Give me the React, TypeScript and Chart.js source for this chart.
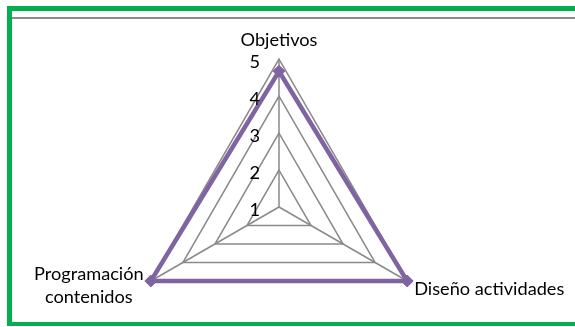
import React, { useEffect, useRef } from "react";
import { Chart, registerables } from "chart.js";

Chart.register(...registerables);

const categories: string[][] = [["Objetivos"], ["Diseño actividades"], ["Programación", "contenidos"]];
const seriesValues: number[] = [4.67, 5, 5];
const tickValues: number[] = [1, 2, 3, 4, 5];

const FONT = "18.2px Lato";
const GRID = "#8a8a8a";
const PURPLE = "#8064A2";

const labelPlugin = {
  id: "customLabels",
  afterDatasetsDraw(chart: any) {
    const scale = chart.scales.r;
    const ctx = chart.ctx;
    ctx.save();
    ctx.fillStyle = "#000";
    ctx.font = FONT;
    // tick labels
    ctx.textAlign = "right";
    ctx.textBaseline = "middle";
    tickValues.forEach((v) => {
      const d = scale.getDistanceFromCenterForValue(v);
      ctx.fillText(String(v), scale.xCenter - 19, scale.yCenter - d + 3);
    });
    // point labels
    const R = scale.drawingArea;
    categories.forEach((lines, i) => {
      const p = scale.getPointPosition(i, R);
      ctx.textBaseline = "alphabetic";
      if (i === 0) {
        ctx.textAlign = "center";
        ctx.fillText(lines[0], p.x, p.y - 13.5);
      } else if (i === 1) {
        ctx.textAlign = "left";
        ctx.fillText(lines[0], p.x + 7, p.y + 14);
      } else {
        ctx.textAlign = "center";
        ctx.fillText(lines[0], p.x - 62, p.y - 1);
        ctx.fillText(lines[1], p.x - 62, p.y + 21.8);
      }
    });
    ctx.restore();
  },
};

export default function App() {
  const ref = useRef<HTMLCanvasElement | null>(null);
  useEffect(() => {
    if (!ref.current) return;
    const chart = new Chart(ref.current, {
      type: "radar",
      data: {
        labels: categories.map((c) => c.join(" ")),
        datasets: [
          {
            data: seriesValues,
            borderColor: PURPLE,
            backgroundColor: PURPLE,
            borderWidth: 4.5,
            fill: false,
            pointStyle: "rectRot",
            pointRadius: 6,
            pointBackgroundColor: PURPLE,
            pointBorderColor: PURPLE,
            pointBorderWidth: 1,
          },
        ],
      },
      options: {
        responsive: false,
        animation: false,
        layout: { padding: { left: 131, right: 148, top: 59.5, bottom: 44.5 } },
        plugins: { legend: { display: false }, tooltip: { enabled: false } },
        scales: {
          r: {
            min: 1,
            max: 5,
            ticks: { display: false, stepSize: 1 },
            grid: { color: GRID, lineWidth: 1.5 },
            angleLines: { color: GRID, lineWidth: 1.5 },
            pointLabels: { display: false },
          },
        },
      },
      plugins: [labelPlugin],
    });
    return () => chart.destroy();
  }, []);

  return (
    <div style={{ position: "fixed", left: 0, top: 0, width: 575, height: 327, overflow: "hidden", background: "#fff" }}>
      <div
        style={{
          position: "absolute",
          left: 7,
          top: 6,
          width: 620,
          height: 311,
          borderLeft: "5px solid #00B050",
          borderTop: "5px solid #00B050",
          borderBottom: "4px solid #00B050",
        }}
      />
      <div style={{ position: "absolute", left: 12, top: 17, width: 570, height: 2, background: "#8c8c8c" }} />
      <canvas ref={ref} width={575} height={400} style={{ position: "absolute", left: 0, top: 0 }} />
    </div>
  );
}
